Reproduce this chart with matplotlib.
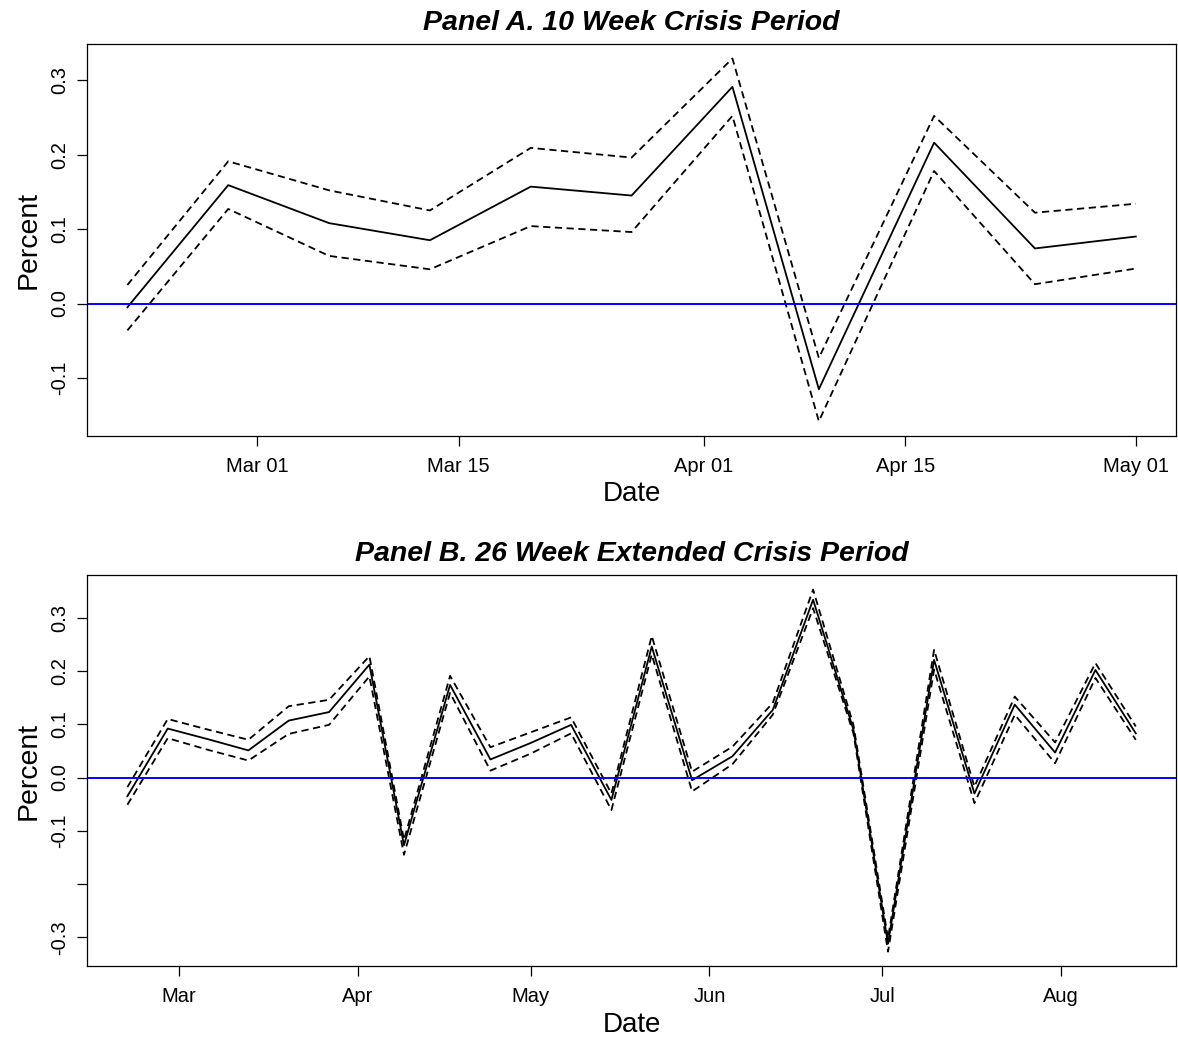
import numpy as np
import matplotlib
matplotlib.use("Agg")
import matplotlib.pyplot as plt
import matplotlib.dates as mdates

plt.rcParams['font.family'] = ['Liberation Sans', 'DejaVu Sans']

# Panel A: 10 week crisis period (weekly)
dates_a = np.array(['2020-02-21', '2020-02-28', '2020-03-06', '2020-03-13', '2020-03-20',
                    '2020-03-27', '2020-04-03', '2020-04-09', '2020-04-17', '2020-04-24',
                    '2020-05-01'], dtype='datetime64[D]')
est_a = [-0.005, 0.159, 0.108, 0.085, 0.157, 0.145, 0.291, -0.115, 0.216, 0.074, 0.090]
upper_a = [0.025, 0.191, 0.152, 0.125, 0.209, 0.196, 0.329, -0.073, 0.252, 0.122, 0.134]
lower_a = [-0.036, 0.127, 0.064, 0.046, 0.104, 0.096, 0.252, -0.158, 0.178, 0.026, 0.047]
ticks_a = np.array(['2020-03-01', '2020-03-15', '2020-04-01', '2020-04-15', '2020-05-01'],
                   dtype='datetime64[D]')

# Panel B: 26 week extended crisis period
dates_b = np.array(['2020-02-21', '2020-02-28', '2020-03-06', '2020-03-13', '2020-03-20',
                    '2020-03-27', '2020-04-03', '2020-04-09', '2020-04-17', '2020-04-24',
                    '2020-05-01', '2020-05-08', '2020-05-15', '2020-05-22', '2020-05-29',
                    '2020-06-05', '2020-06-12', '2020-06-19', '2020-06-26', '2020-07-02',
                    '2020-07-10', '2020-07-17', '2020-07-24', '2020-07-31', '2020-08-07',
                    '2020-08-14'], dtype='datetime64[D]')
est_b = [-0.035, 0.092, 0.072, 0.051, 0.107, 0.123, 0.212, -0.127, 0.174, 0.034,
         0.065, 0.099, -0.042, 0.246, -0.005, 0.040, 0.127, 0.334, 0.090, -0.312,
         0.221, -0.030, 0.137, 0.047, 0.202, 0.083]
upper_b = [-0.018, 0.110, 0.090, 0.071, 0.134, 0.146, 0.228, -0.117, 0.191, 0.057,
           0.085, 0.113, -0.030, 0.266, 0.011, 0.058, 0.140, 0.353, 0.099, -0.302,
           0.240, -0.017, 0.152, 0.066, 0.215, 0.096]
lower_b = [-0.051, 0.074, 0.052, 0.032, 0.082, 0.099, 0.190, -0.145, 0.159, 0.013,
           0.045, 0.083, -0.061, 0.231, -0.026, 0.025, 0.118, 0.318, 0.083, -0.327,
           0.203, -0.048, 0.118, 0.027, 0.187, 0.071]
ticks_b = np.array(['2020-03-01', '2020-04-01', '2020-05-01', '2020-06-01', '2020-07-01',
                    '2020-08-01'], dtype='datetime64[D]')


def draw_panel(ax, dates, est, upper, lower, ticks, fmt, yticks, ylabels, title):
    x = mdates.date2num(dates.astype('datetime64[s]').astype(object))
    ax.plot(x, est, color='black', lw=1.3)
    ax.plot(x, upper, color='black', lw=1.3, ls=(0, (4, 2.5)))
    ax.plot(x, lower, color='black', lw=1.3, ls=(0, (4, 2.5)))
    ax.axhline(0, color='#0000ff', lw=1.4)

    # R style 4% padding
    xr = x.max() - x.min()
    ax.set_xlim(x.min() - 0.04 * xr, x.max() + 0.04 * xr)
    lo, hi = min(lower), max(upper)
    yr = hi - lo
    ax.set_ylim(lo - 0.04 * yr, hi + 0.04 * yr)

    tx = mdates.date2num(ticks.astype('datetime64[s]').astype(object))
    ax.set_xticks(tx)
    ax.set_xticklabels([mdates.num2date(t).strftime(fmt) for t in tx], fontsize=14.5)
    ax.set_yticks(yticks)
    ax.set_yticklabels(ylabels, fontsize=14.5, rotation=90, va='center')
    ax.tick_params(direction='out', length=7, width=0.9, pad=6)
    ax.tick_params(axis='x', pad=8)
    for s in ax.spines.values():
        s.set_linewidth(0.9)
    ax.set_xlabel('Date', fontsize=20, labelpad=4)
    ax.set_ylabel('Percent', fontsize=20.5, labelpad=6)
    ax.set_title(title, fontsize=20.5, fontweight='bold', style='italic', pad=10)


fig = plt.figure(figsize=(11.78, 10.40), dpi=100)
ax1 = fig.add_axes([0.0739, 0.581, 0.9245, 0.3767])
ax2 = fig.add_axes([0.0739, 0.071, 0.9245, 0.3760])

draw_panel(ax1, dates_a, est_a, upper_a, lower_a, ticks_a, '%b %d',
           [-0.1, 0.0, 0.1, 0.2, 0.3], ['-0.1', '0.0', '0.1', '0.2', '0.3'],
           'Panel A. 10 Week Crisis Period')
draw_panel(ax2, dates_b, est_b, upper_b, lower_b, ticks_b, '%b',
           [-0.3, -0.2, -0.1, 0.0, 0.1, 0.2, 0.3],
           ['-0.3', '', '-0.1', '0.0', '0.1', '0.2', '0.3'],
           'Panel B. 26 Week Extended Crisis Period')

fig.savefig('out.png', dpi=100)
